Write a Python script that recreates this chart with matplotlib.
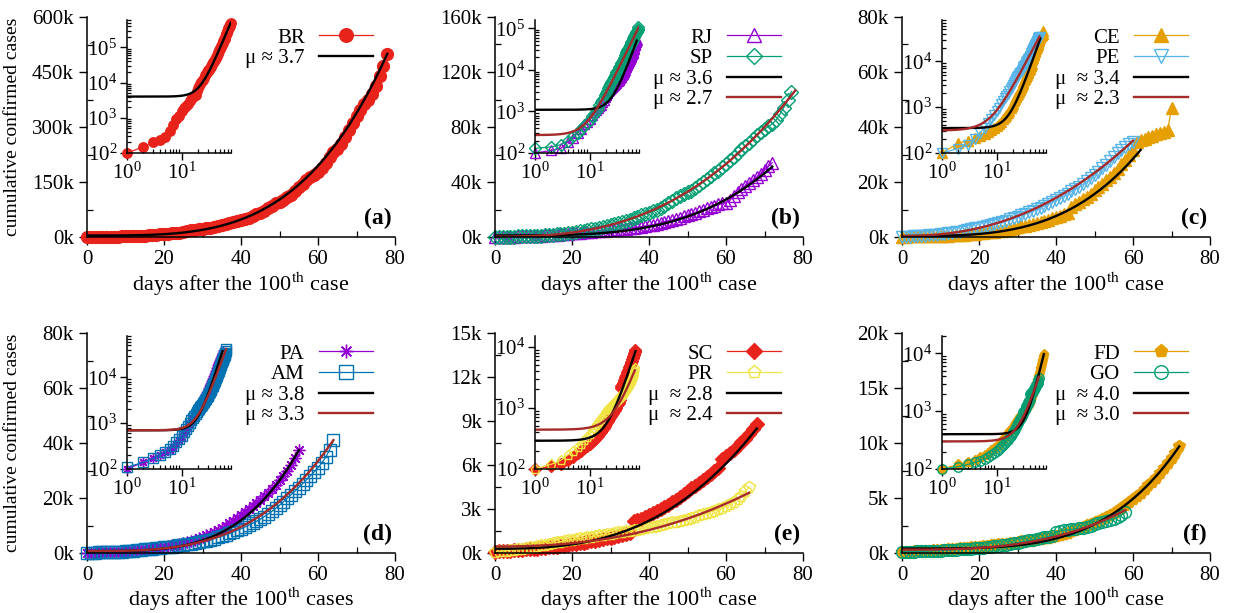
import numpy as np
import matplotlib.pyplot as plt
from matplotlib.ticker import FuncFormatter, MultipleLocator, LogLocator, NullFormatter

plt.rcParams['font.family'] = ['Liberation Serif', 'DejaVu Serif']
plt.rcParams['mathtext.fontset'] = 'stix'

# cumulative confirmed cases, one value per day after the 100th case (day 0, 1, 2, ...)
BR = [100, 150, 200, 234, 291, 428, 621, 904, 1128, 1546, 1891, 2201, 2433, 2915, 3417, 3904,
      4256, 4579, 5717, 6836, 7910, 9056, 10278, 11130, 12056, 13717, 15927, 17857, 19638, 20727,
      22169, 23430, 25262, 28320, 30425, 33682, 36599, 38654, 40581, 43079, 45757, 49492, 52995,
      58509, 61888, 66501, 71886, 78162, 85380, 91589, 96559, 101147, 107780, 114715, 125218,
      135106, 145328, 155939, 162699, 168331, 177589, 188974, 202918, 218223, 233142, 241080,
      254220, 271628, 291579, 310087, 330890, 347398, 363211, 374898, 391222, 411821, 438238,
      465166, 498440]
RJ = [100, 115, 130, 185, 235, 305, 370, 490, 560, 660, 830, 990, 1070, 1230, 1390, 1460, 1690,
      1940, 2220, 2460, 2860, 3060, 3230, 3410, 3740, 3940, 4100, 4350, 4680, 4900, 5100, 5310,
      5550, 5800, 6170, 6500, 6710, 7120, 7500, 7940, 8500, 8860, 9450, 10170, 11140, 11720,
      12390, 13290, 14160, 14930, 15740, 16770, 17640, 18730, 19900, 20800, 21600, 22750, 23650,
      24430, 25040, 26660, 30000, 32500, 34800, 37200, 39400, 41500, 43600, 46000, 48600, 51500,
      54000]
SP = [130, 140, 160, 200, 250, 310, 380, 450, 540, 640, 760, 880, 1020, 1180, 1400, 1650, 1900,
      2150, 2450, 2800, 3200, 3600, 4050, 4500, 5000, 5500, 6100, 6700, 7400, 8100, 8800, 9500,
      10200, 11000, 11900, 12700, 13600, 14700, 15800, 16900, 17800, 18700, 19800, 21000, 22600,
      24500, 26400, 28300, 30000, 31500, 32600, 33800, 35500, 37500, 39800, 42100, 44300, 46300,
      48200, 50600, 53200, 55700, 58500, 61400, 63700, 66000, 68400, 71100, 73900, 76300, 78400,
      80400, 82300, 85100, 89300, 94100, 99500, 105800]
CE = [100, 165, 185, 210, 230, 260, 290, 320, 350, 380, 430, 480, 540, 600, 680, 760, 840, 950,
      1050, 1200, 1350, 1500, 1650, 1800, 1950, 2150, 2350, 2600, 2900, 3200, 3500, 3850, 4150,
      4450, 4800, 5100, 5500, 5900, 6350, 6800, 7250, 7750, 8200, 8800, 10900, 12000, 12800,
      13700, 14700, 15800, 17000, 18200, 19400, 20600, 21900, 23300, 24800, 26400, 28100, 29900,
      31800, 34400, 35200, 35800, 36300, 36800, 37300, 37800, 38300, 38900, 46800]
PE = [100, 125, 150, 200, 280, 360, 450, 560, 680, 820, 980, 1150, 1350, 1550, 1750, 1980, 2250,
      2500, 2800, 3100, 3400, 3750, 4100, 4450, 4800, 5200, 5600, 6000, 6450, 6900, 7400, 7900,
      8400, 8950, 9500, 10100, 10700, 11300, 12000, 12700, 13400, 14100, 14900, 15700, 16600,
      17400, 18300, 19200, 20200, 21300, 22500, 23800, 25000, 26300, 27600, 29000, 30400, 31700,
      32800, 33800, 34700]
PA = [100, 140, 170, 200, 230, 260, 300, 350, 420, 500, 600, 700, 820, 950, 1100, 1250, 1400,
      1600, 1800, 2000, 2250, 2500, 2750, 3050, 3350, 3700, 4050, 4450, 4900, 5350, 5850, 6400,
      7000, 7650, 8350, 9100, 9900, 10800, 11700, 12700, 13700, 14800, 15900, 17000, 18200,
      19400, 20600, 21900, 23300, 24800, 26400, 28100, 30000, 32100, 34500, 37300]
AM = [110, 140, 170, 200, 240, 270, 320, 380, 450, 530, 640, 750, 870, 1000, 1150, 1300, 1450,
      1600, 1750, 1900, 2050, 2200, 2350, 2550, 2750, 2950, 3150, 3400, 3650, 3900, 4200, 4500,
      4850, 5250, 5700, 6150, 6600, 7100, 7650, 8200, 8800, 9450, 10100, 10800, 11500, 12300,
      13200, 14100, 15100, 16200, 17400, 18600, 19900, 21200, 22500, 23800, 25200, 26600, 28000,
      29500, 31000, 32800, 34800, 37500, 41000]
SC = [100, 110, 120, 140, 160, 180, 200, 220, 240, 260, 280, 300, 320, 350, 380, 410, 440, 470,
      500, 540, 580, 620, 660, 700, 740, 790, 840, 890, 940, 990, 1040, 1100, 1160, 1220, 1290,
      1360, 2150, 2250, 2350, 2450, 2560, 2700, 2850, 3000, 3150, 3300, 3450, 3600, 3800, 4000,
      4200, 4400, 4600, 4800, 5000, 5200, 5400, 5600, 5800, 6400, 6600, 6800, 7050, 7300, 7550,
      7800, 8100, 8450, 8800]
PR = [100, 120, 140, 170, 200, 230, 260, 300, 340, 380, 420, 470, 520, 570, 620, 670, 720, 770,
      820, 870, 920, 960, 1000, 1040, 1080, 1120, 1160, 1200, 1240, 1280, 1320, 1360, 1400, 1440,
      1480, 1520, 1560, 1600, 1650, 1700, 1750, 1800, 1850, 1900, 1960, 2020, 2080, 2140, 2200,
      2270, 2340, 2410, 2480, 2560, 2640, 2720, 2800, 2890, 2980, 3080, 3190, 3320, 3480, 3680,
      3920, 4200, 4500]
FD = [100, 120, 130, 145, 160, 175, 190, 210, 230, 250, 275, 300, 330, 360, 390, 420, 450, 480,
      510, 540, 580, 620, 660, 700, 740, 780, 820, 860, 900, 950, 1010, 1050, 1090, 1130, 1180,
      1230, 1280, 1340, 1400, 1470, 1550, 1640, 1740, 1850, 1970, 2100, 2240, 2380, 2520, 2660,
      2800, 2950, 3100, 3270, 3450, 3650, 3870, 4100, 4350, 4620, 4900, 5200, 5500, 5820, 6150,
      6500, 6850, 7250, 7700, 8150, 8600, 9100, 9700]
GO = [100, 110, 120, 130, 140, 150, 160, 175, 190, 205, 220, 240, 260, 280, 300, 320, 340, 370,
      400, 430, 460, 500, 540, 580, 620, 670, 720, 770, 830, 890, 950, 1010, 1070, 1140, 1210,
      1280, 1350, 1420, 1500, 1580, 1950, 2000, 2050, 2100, 2150, 2200, 2250, 2300, 2400, 2500,
      2600, 2700, 2800, 2900, 3000, 3100, 3250, 3450, 3700]

# fitted curves y = A + B * t**mu with t = day + 1: (mu, A, B, last day)
fit_BR = (3.7, 4000, 0.0472, 78)
fit_RJ = (3.6, 1100, 0.0098, 72)
fit_SP = (2.7, 270, 0.80, 78)
fit_CE = (3.4, 350, 0.0239, 62)
fit_PE = (2.3, 310, 2.72, 60)
fit_PA = (3.8, 700, 0.00834, 55)
fit_AM = (3.3, 700, 0.042, 64)
fit_SC = (2.8, 290, 0.0582, 68)
fit_PR = (2.4, 440, 0.152, 66)
fit_FD = (4.0, 400, 0.000327, 72)
fit_GO = (3.0, 300, 0.01753, 58)

RED, PURPLE, GREEN, ORANGE = '#e8231b', '#9400d3', '#009e73', '#e69f00'
SKY, BLUE, YELLOW, BROWN = '#56b4e9', '#0072b2', '#f0e442', '#a52a2a'

panels = [
    (0, 0, [('BR', BR, RED, 'o', True)], [('μ ≈ 3.7', fit_BR, 'black')], 600000, 150000, '(a)', 'case'),
    (0, 1, [('RJ', RJ, PURPLE, '^', False), ('SP', SP, GREEN, 'D', False)],
     [('μ ≈ 3.6', fit_RJ, 'black'), ('μ ≈ 2.7', fit_SP, BROWN)], 160000, 40000, '(b)', 'case'),
    (0, 2, [('CE', CE, ORANGE, '^', True), ('PE', PE, SKY, 'v', False)],
     [('μ  ≈ 3.4', fit_CE, 'black'), ('μ  ≈ 2.3', fit_PE, BROWN)], 80000, 20000, '(c)', 'case'),
    (1, 0, [('PA', PA, PURPLE, (8, 2, 0), False), ('AM', AM, BLUE, 's', False)],
     [('μ ≈ 3.8', fit_PA, 'black'), ('μ ≈ 3.3', fit_AM, BROWN)], 80000, 20000, '(d)', 'cases'),
    (1, 1, [('SC', SC, RED, 'D', True), ('PR', PR, YELLOW, 'p', False)],
     [('μ  ≈ 2.8', fit_SC, 'black'), ('μ  ≈ 2.4', fit_PR, BROWN)], 15000, 3000, '(e)', 'case'),
    (1, 2, [('FD', FD, ORANGE, 'p', True), ('GO', GO, GREEN, 'o', False)],
     [('μ  ≈ 4.0', fit_FD, 'black'), ('μ  ≈ 3.0', fit_GO, BROWN)], 20000, 5000, '(f)', 'case'),
]

W_PX, H_PX = 1238, 613
fig = plt.figure(figsize=(W_PX / 100, H_PX / 100), dpi=100)
col_left = [87, 495, 902]
row_bottom = [237, 553]
ax_w, ax_h = 308, 220
FS = 15


def style(a, major_len=5, minor_len=3.5):
    for s in ('top', 'right'):
        a.spines[s].set_visible(False)
    for s in ('left', 'bottom'):
        a.spines[s].set_linewidth(1.1)
    a.tick_params(which='major', direction='out', length=major_len, width=1, labelsize=FS)
    a.tick_params(which='minor', direction='in', length=minor_len, width=0.9)


for row, col, series, fits, ymax, ystep, tag, word in panels:
    x0 = col_left[col] / W_PX
    y0 = 1 - row_bottom[row] / H_PX
    ax = fig.add_axes([x0, y0, ax_w / W_PX, ax_h / H_PX])
    ins = fig.add_axes([(col_left[col] + 40) / W_PX, y0 + 84 / H_PX, 104 / W_PX, 133 / H_PX])
    ins.patch.set_alpha(0)

    for name, vals, color, marker, filled in series:
        d = np.arange(len(vals))
        kw = dict(color=color, marker=marker, mec=color, mfc=color if filled else 'none',
                  lw=0.9, mew=1.0, clip_on=False)
        ms = 7.5 if marker == 'D' else 8.5
        ax.plot(d, vals, ms=ms, label=name, **kw)
        ins.plot(d + 1, vals, ms=ms * 0.8, **kw)
    for lab, (mu, A, B, last), color in fits:
        t = np.linspace(1, last + 1, 400)
        y = A + B * t ** mu
        ax.plot(t - 1, y, color=color, lw=1.7, label=lab)
        ins.plot(t, y, color=color, lw=1.7)

    ax.set_xlim(0, 80)
    ax.set_ylim(0, ymax)
    ax.xaxis.set_major_locator(MultipleLocator(20))
    ax.xaxis.set_minor_locator(MultipleLocator(10))
    ax.yaxis.set_major_locator(MultipleLocator(ystep))
    ax.yaxis.set_minor_locator(MultipleLocator(ystep / 2))
    ax.yaxis.set_major_formatter(FuncFormatter(lambda v, p: f'{int(round(v / 1000))}k'))
    style(ax, 6, 4)
    ax.set_xlabel('days after the 100$^{\\rm th}$ ' + word, fontsize=16,
                  labelpad=1 if row == 0 else 0)
    if col == 0:
        ax.set_ylabel('cumulative confirmed cases', fontsize=14)
        ax.yaxis.set_label_coords(-0.215, 0.5)
    ax.text(0.99, 0.035, tag, transform=ax.transAxes, ha='right', va='bottom',
            fontsize=17, fontweight='bold')
    ax.legend(loc='upper right', bbox_to_anchor=(0.93, 0.95), markerfirst=False, frameon=False,
              fontsize=FS, handlelength=2.6, labelspacing=0.05, handletextpad=0.7,
              borderaxespad=0, markerscale=1.15, borderpad=0)

    ins.set_xscale('log')
    ins.set_yscale('log')
    ins.set_xlim(1, 80)
    ins.set_ylim(100, ymax)
    ins.xaxis.set_major_locator(LogLocator(base=10, numticks=10))
    ins.yaxis.set_major_locator(LogLocator(base=10, numticks=10))
    ins.xaxis.set_minor_locator(LogLocator(base=10, subs=np.arange(2, 10), numticks=10))
    ins.yaxis.set_minor_locator(LogLocator(base=10, subs=np.arange(2, 10), numticks=10))
    ins.xaxis.set_minor_formatter(NullFormatter())
    ins.yaxis.set_minor_formatter(NullFormatter())
    style(ins, 5, 3)
    ins.tick_params(axis='both', pad=2)

fig.savefig('out.png', dpi=100)
